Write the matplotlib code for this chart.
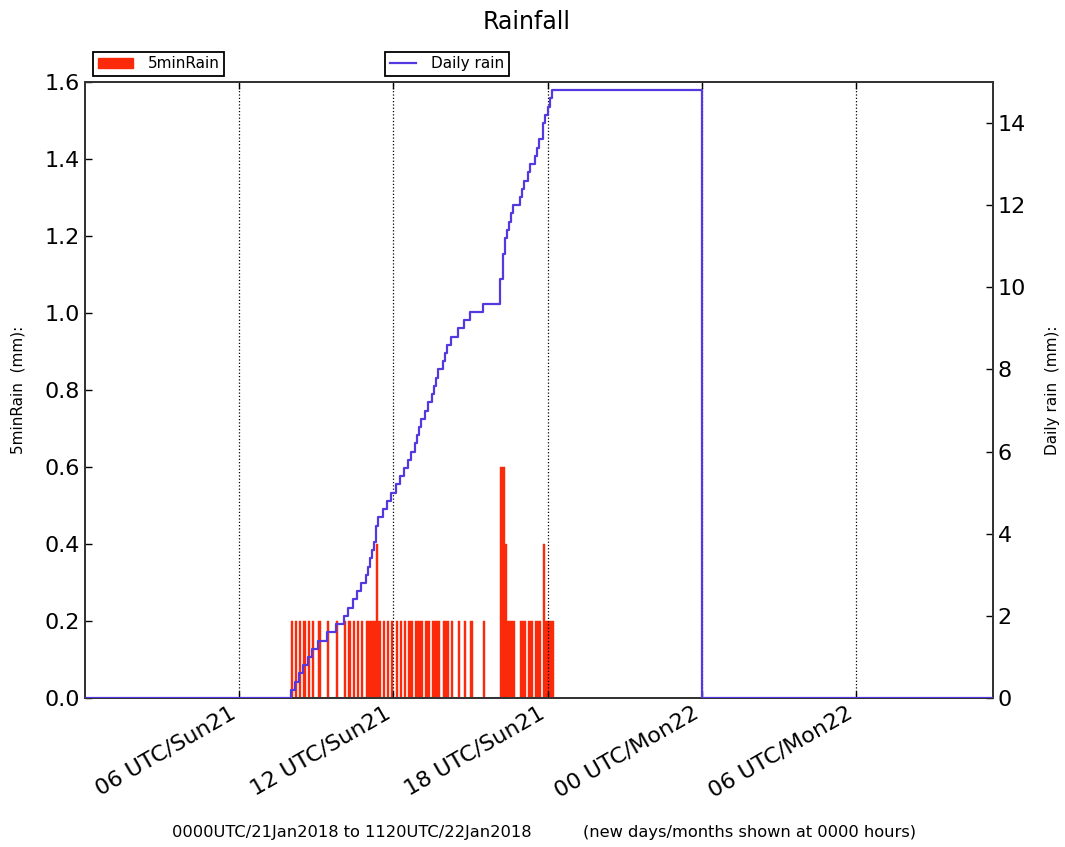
import matplotlib
matplotlib.use("Agg")
import matplotlib.pyplot as plt
import matplotlib.dates as mdates
from matplotlib.patches import Patch
from matplotlib.lines import Line2D
from datetime import datetime, timedelta

# ---- data (minutes after 0000 UTC 21 Jan 2018) ----
start = datetime(2018, 1, 21, 0, 0)
end = datetime(2018, 1, 22, 11, 20)

bar_minutes = [480, 490, 500, 510, 520, 530, 545, 565, 585, 605,
               615, 625, 635, 645, 655, 660, 665, 670, 675, 680,
               685, 695, 705, 715,
               725, 735, 745, 755, 760, 770, 775, 780, 785, 795, 800, 810, 815, 820, 825,
               835, 840, 845, 855, 870, 885, 900, 930,
               970, 975, 980,
               985, 990, 995, 1000, 1015, 1020, 1025, 1035, 1040, 1050, 1055, 1060,
               1070, 1075, 1080, 1085, 1090]
bar_rain = [0.2, 0.2, 0.2, 0.2, 0.2, 0.2, 0.2, 0.2, 0.2, 0.2,
            0.2, 0.2, 0.2, 0.2, 0.2, 0.2, 0.2, 0.2, 0.2, 0.4,
            0.2, 0.2, 0.2, 0.2,
            0.2, 0.2, 0.2, 0.2, 0.2, 0.2, 0.2, 0.2, 0.2, 0.2, 0.2, 0.2, 0.2, 0.2, 0.2,
            0.2, 0.2, 0.2, 0.2, 0.2, 0.2, 0.2, 0.2,
            0.6, 0.6, 0.4,
            0.2, 0.2, 0.2, 0.2, 0.2, 0.2, 0.2, 0.2, 0.2, 0.2, 0.2, 0.2,
            0.4, 0.2, 0.2, 0.2, 0.2]

daily_minutes = [0] + bar_minutes + [1440, 2120]
daily_rain = [0.0,
              0.2, 0.4, 0.6, 0.8, 1.0, 1.2, 1.4, 1.6, 1.8, 2.0,
              2.2, 2.4, 2.6, 2.8, 3.0, 3.2, 3.4, 3.6, 3.8, 4.2,
              4.4, 4.6, 4.8, 5.0,
              5.2, 5.4, 5.6, 5.8, 6.0, 6.2, 6.4, 6.6, 6.8, 7.0, 7.2, 7.4, 7.6, 7.8, 8.0,
              8.2, 8.4, 8.6, 8.8, 9.0, 9.2, 9.4, 9.6,
              10.2, 10.8, 11.2,
              11.4, 11.6, 11.8, 12.0, 12.2, 12.4, 12.6, 12.8, 13.0, 13.2, 13.4, 13.6,
              14.0, 14.2, 14.4, 14.6, 14.8,
              0.0, 0.0]

left_ticks = [0.0, 0.2, 0.4, 0.6, 0.8, 1.0, 1.2, 1.4, 1.6]
right_ticks = [0, 2, 4, 6, 8, 10, 12, 14]
x_tick_hours = [6, 12, 18, 24, 30]

bar_times = [start + timedelta(minutes=m) for m in bar_minutes]
daily_times = [start + timedelta(minutes=m) for m in daily_minutes]
x_ticks = [start + timedelta(hours=h) for h in x_tick_hours]

RED = '#fa2a0a'
BLUE = '#5438e0'

fig = plt.figure(figsize=(10.65, 8.47), dpi=100)
ax = fig.add_axes([85/1065, 1-698/847, (993-85)/1065, (698-82)/847])

ax.bar(bar_times, bar_rain, width=5/1440, align='edge', color=RED,
       edgecolor=RED, linewidth=0.3, zorder=2)
ax.set_xlim(start, end)
ax.set_ylim(0, 1.6)
ax.set_yticks(left_ticks)
ax.set_yticklabels([f"{v:.1f}" for v in left_ticks], fontsize=16)
ax.set_xticks(x_ticks)
ax.xaxis.set_major_formatter(mdates.DateFormatter('%H UTC/%a%d'))
for lab in ax.get_xticklabels():
    lab.set_rotation(30)
    lab.set_ha('right')
    lab.set_fontsize(16)
ax.grid(axis='x', linestyle=':', color='black', linewidth=0.9, zorder=3)
ax.set_axisbelow(False)
ax.tick_params(axis='both', direction='in', length=5, width=1, top=True)
ax.tick_params(axis='y', right=False)

ax2 = ax.twinx()
ax2.plot(daily_times, daily_rain, drawstyle='steps-post', color=BLUE,
         linewidth=1.6, zorder=4)
ax2.set_ylim(0, 15.0)
ax2.set_yticks(right_ticks)
ax2.set_yticklabels([str(v) for v in right_ticks], fontsize=16)
ax2.tick_params(axis='y', direction='in', length=5, width=1)
ax2.set_xlim(start, end)

for a in (ax, ax2):
    for s in a.spines.values():
        s.set_linewidth(1.3)
        s.set_color('#333333')

fig.text(18/1065, 1-390/847, '5minRain  (mm):', rotation=90, ha='center',
         va='center', fontsize=11)
fig.text(1052/1065, 1-390/847, 'Daily rain  (mm):', rotation=90, ha='center',
         va='center', fontsize=11)

# legends above the axes
leg1 = fig.legend(handles=[Patch(facecolor=RED, edgecolor=RED)], labels=['5minRain'],
                  loc='lower left', bbox_to_anchor=(93/1065, 1-76/847),
                  borderaxespad=0, fontsize=11, fancybox=False, framealpha=1,
                  edgecolor='black', handlelength=2.3, handleheight=0.6,
                  handletextpad=1.0, borderpad=0.3)
leg1.get_frame().set_linewidth(1.3)
leg2 = fig.legend(handles=[Line2D([0], [0], color=BLUE, linewidth=1.6)], labels=['Daily rain'],
                  loc='lower left', bbox_to_anchor=(385/1065, 1-76/847),
                  borderaxespad=0, fontsize=11, fancybox=False, framealpha=1,
                  edgecolor='black', handlelength=1.7, handletextpad=1.0, borderpad=0.3)
leg2.get_frame().set_linewidth(1.3)

fig.text(527/1065, 1-22/847, 'Rainfall', ha='center', va='center', fontsize=17)
fig.text(172/1065, 1-832/847, '0000UTC/21Jan2018 to 1120UTC/22Jan2018',
         ha='left', va='center', fontsize=11.7)
fig.text(583/1065, 1-832/847, '(new days/months shown at 0000 hours)',
         ha='left', va='center', fontsize=11.7)

fig.savefig('out.png', dpi=100)
